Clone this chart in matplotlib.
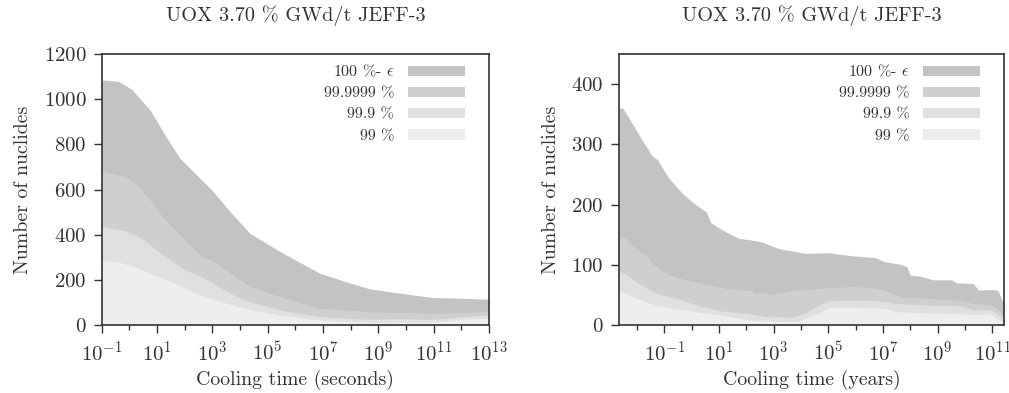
import numpy as np
import matplotlib
matplotlib.use("Agg")
import matplotlib.pyplot as plt
from matplotlib.ticker import NullFormatter, FixedLocator

plt.rcParams['font.family'] = ['cmr10', 'DejaVu Serif']
plt.rcParams['mathtext.fontset'] = 'cm'
plt.rcParams['axes.formatter.use_mathtext'] = True
plt.rcParams['axes.unicode_minus'] = False

labels = ["100 %- $\\epsilon$", "99.9999 %", "99.9 %", "99 %"]
colors = ["#c2c3c5", "#cecfd1", "#dfe0e2", "#eeeeee"]

# ---- Left panel: cooling time in seconds (log10 of time, number of nuclides)
sec_top_logx = [-1, -0.4, 0.08, 0.75, 1.29, 1.83, 2.37, 2.98, 3.64, 4.36, 5.45, 6.89, 8.0, 8.7, 9.72, 10.93, 12.13, 13]
sec_top_y = [1085, 1079, 1044, 952, 841, 738, 672, 598, 502, 406, 325, 229, 185, 160, 142, 122, 118, 114]
sec_b2_logx = [-1, -0.16, 0.27, 0.75, 1.29, 2.01, 2.61, 2.98, 3.64, 4.36, 5.45, 6.89, 8.7, 9.72, 10.93, 12.0, 13]
sec_b2_y = [683, 657, 624, 553, 465, 376, 303, 288, 229, 170, 125, 74, 59, 56, 52, 55, 63]
sec_b3_logx = [-1, -0.16, 0.45, 1.05, 2.01, 2.61, 3.64, 4.36, 5.45, 6.89, 8.7, 9.72, 10.93, 11.5, 12.0, 13]
sec_b3_y = [435, 418, 384, 325, 244, 214, 140, 103, 66, 37, 25, 28, 25, 30, 37, 44]
sec_b4_logx = [-1, -0.4, 0.2, 0.93, 1.53, 2.13, 2.73, 3.64, 4.36, 5.45, 6.89, 8.7, 9.72, 10.93, 11.5, 12.0, 13]
sec_b4_y = [285, 279, 258, 217, 192, 155, 125, 92, 69, 44, 22, 12, 13, 12, 18, 25, 32]

# ---- Right panel: cooling time in years
yr_top_logx = [-2.67, -2.52, -2.18, -1.81, -1.45, -1.26, -0.84, -0.35, 0.08, 0.53, 0.70, 1.11, 1.72, 2.21,
               2.56, 3.17, 4.15, 5.00, 5.85, 6.71, 7.07, 7.62, 7.87, 7.99, 8.35, 8.84, 9.51, 9.69, 10.3,
               10.5, 11.04, 11.22, 11.35, 11.43]
yr_top_y = [361, 360, 335, 307, 281, 275, 244, 219, 202, 188, 170, 158, 144, 141,
            138, 127, 119, 120, 115, 112, 105, 101, 97, 83, 81, 75, 75, 70, 69,
            58, 59, 57, 41, 40]
yr_b2_logx = [-2.67, -2.43, -2.06, -1.69, -1.33, -0.84, -0.23, 0.50, 1.23, 2.21, 2.32, 2.62, 2.87, 3.17,
              3.78, 5.0, 5.98, 6.59, 7.07, 7.62, 8.72, 9.82, 10.3, 11.04, 11.35, 11.43]
yr_b2_y = [149, 144, 127, 116, 98, 83, 75, 68, 61, 57, 53, 55, 50, 53,
           58, 62, 64, 62, 58, 47, 44, 41, 36, 33, 19, 18]
yr_b3_logx = [-2.67, -2.43, -1.94, -1.33, -0.47, 0.26, 0.99, 2.21, 2.68, 3.66, 4.15, 4.64, 5.0, 5.61,
              6.59, 7.07, 7.38, 8.72, 9.82, 10.3, 10.92, 11.35, 11.43]
yr_b3_y = [90, 85, 69, 53, 43, 32, 24, 18, 14, 13, 19, 33, 40, 41,
           41, 39, 36, 33, 32, 25, 26, 14, 12]
yr_b4_logx = [-2.67, -2.43, -1.94, -1.33, -0.47, 0.50, 1.35, 2.21, 3.17, 3.9, 4.27, 4.64, 5.0, 5.98,
              7.07, 7.5, 8.72, 9.69, 10.3, 10.92, 11.35, 11.43]
yr_b4_y = [57, 53, 43, 33, 26, 20, 14, 8, 6, 6, 14, 19, 29, 29,
           28, 22, 20, 19, 17, 19, 6, 5]

title = "UOX 3.70 % GWd/t JEFF-3"
ylabel = "Number of nuclides"
xlabels = ["Cooling time (seconds)", "Cooling time (years)"]

fig = plt.figure(figsize=(10.09, 3.93), dpi=100)
ax1 = fig.add_axes([0.1008, 0.173, 0.3838, 0.6896])
ax2 = fig.add_axes([0.6132, 0.173, 0.3819, 0.6896])

textcol = "#333333"

def draw(ax, series, xlim, ylim, yticks, maj_exps, min_exps, xlabel):
    for (lx, yy), c, lab in zip(series, colors, labels):
        ax.fill_between(10.0 ** np.array(lx), 0, yy, color=c, lw=0, label=lab)
    ax.set_xscale('log')
    ax.set_xlim(10.0 ** xlim[0], 10.0 ** xlim[1])
    ax.set_ylim(*ylim)
    ax.set_yticks(yticks)
    ax.xaxis.set_major_locator(FixedLocator([10.0 ** e for e in maj_exps]))
    ax.xaxis.set_minor_locator(FixedLocator([10.0 ** e for e in min_exps]))
    ax.xaxis.set_minor_formatter(NullFormatter())
    ax.tick_params(axis='both', which='major', direction='out', length=6, width=1.0,
                   labelsize=15, colors="#333333", labelcolor=textcol, pad=5)
    ax.tick_params(axis='x', which='minor', direction='out', length=3.5, width=1.0, colors="#333333")
    for s in ax.spines.values():
        s.set_color("#333333")
        s.set_linewidth(1.2)
    ax.set_title(title, fontsize=14.6, color=textcol, pad=24)
    ax.set_ylabel(ylabel, fontsize=14.3, color=textcol, labelpad=8)
    ax.set_xlabel(xlabel, fontsize=14.3, color=textcol, labelpad=4)
    leg = ax.legend(loc='upper right', bbox_to_anchor=(0.955, 0.99), frameon=False, markerfirst=False,
                    fontsize=11.5, handlelength=3.6, handleheight=0.65, handletextpad=0.85,
                    labelspacing=0.45, borderaxespad=0.0)
    for t in leg.get_texts():
        t.set_color(textcol)

draw(ax1,
     [(sec_top_logx, sec_top_y), (sec_b2_logx, sec_b2_y), (sec_b3_logx, sec_b3_y), (sec_b4_logx, sec_b4_y)],
     (-1, 13), (0, 1200), [0, 200, 400, 600, 800, 1000, 1200],
     [-1, 1, 3, 5, 7, 9, 11, 13], [0, 2, 4, 6, 8, 10, 12], xlabels[0])
draw(ax2,
     [(yr_top_logx, yr_top_y), (yr_b2_logx, yr_b2_y), (yr_b3_logx, yr_b3_y), (yr_b4_logx, yr_b4_y)],
     (-2.67, 11.43), (0, 450), [0, 100, 200, 300, 400],
     [-1, 1, 3, 5, 7, 9, 11], [-2, 0, 2, 4, 6, 8, 10], xlabels[1])

fig.savefig("out.png", dpi=100)
